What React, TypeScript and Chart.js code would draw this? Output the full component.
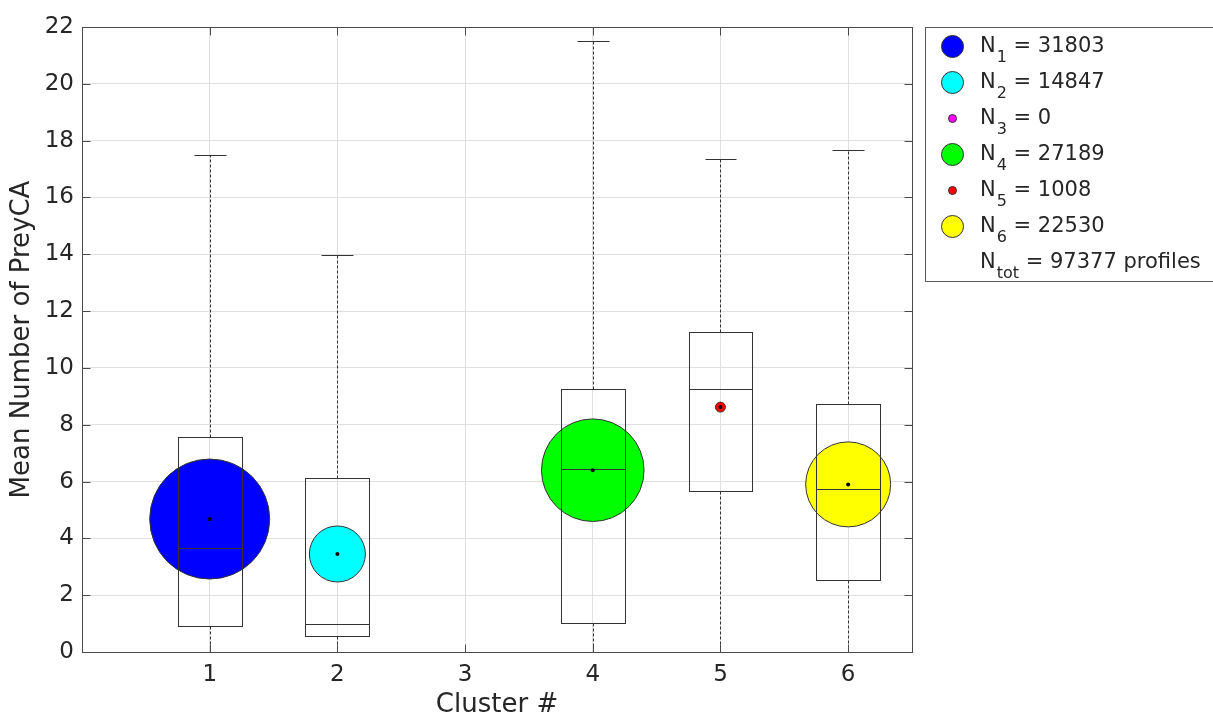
import React, { useEffect, useRef } from "react";
import { Chart, registerables } from "chart.js";

Chart.register(...registerables);

// ---------------- Data ----------------
const clusters = [1, 2, 3, 4, 5, 6];
const clusterCounts = [31803, 14847, 0, 27189, 1008, 22530];
const totalProfiles = 97377;
const clusterMeans: (number | null)[] = [4.68, 3.45, null, 6.4, 8.62, 5.9];
const clusterMedians: (number | null)[] = [3.65, 0.99, null, 6.43, 9.27, 5.73];
const clusterQ1: (number | null)[] = [0.93, 0.56, null, 1.01, 5.67, 2.53];
const clusterQ3: (number | null)[] = [7.57, 6.12, null, 9.26, 11.26, 8.74];
const whiskerLow: (number | null)[] = [0, 0, null, 0, 0, 0];
const whiskerHigh: (number | null)[] = [17.5, 13.97, null, 21.5, 17.36, 17.66];
const clusterColors = ["#0000ff", "#00ffff", "#ff00ff", "#00ff00", "#ff0000", "#ffff00"];
const xTicks = [1, 2, 3, 4, 5, 6];
const yTicks = [0, 2, 4, 6, 8, 10, 12, 14, 16, 18, 20, 22];
const xTitle = "Cluster #";
const yTitle = "Mean Number of PreyCA";

// ---------------- Style ----------------
const FONT = "'DejaVu Sans', sans-serif";
const TEXT = "#262626";
const AXIS = "#4a4a4a";
const BOXLINE = "#333333";
const GRID = "#e0e0e0";
const PX_PER_PROFILE = 60 / 31803;
const MIN_BUBBLE = 5;

const px = (v: number) => Math.round(v) + 0.5;

const boxPlugin = {
  id: "boxes",
  afterDatasetDraw(chart: any, args: any) {
    if (args.meta.type !== "bubble") return;
    const { ctx } = chart;
    const x = chart.scales.x;
    const y = chart.scales.y;
    ctx.save();
    ctx.strokeStyle = BOXLINE;
    ctx.lineWidth = 1;
    const line = (x1: number, y1: number, x2: number, y2: number) => {
      ctx.beginPath();
      ctx.moveTo(x1, y1);
      ctx.lineTo(x2, y2);
      ctx.stroke();
    };
    clusters.forEach((c, i) => {
      const q1 = clusterQ1[i];
      const q3 = clusterQ3[i];
      const med = clusterMedians[i];
      const lo = whiskerLow[i];
      const hi = whiskerHigh[i];
      if (q1 == null || q3 == null || med == null || lo == null || hi == null) return;
      const xc = px(x.getPixelForValue(c));
      const xl = px(x.getPixelForValue(c - 0.25));
      const xr = px(x.getPixelForValue(c + 0.25));
      const cl = px(x.getPixelForValue(c - 0.125));
      const cr = px(x.getPixelForValue(c + 0.125));
      const yq1 = px(y.getPixelForValue(q1));
      const yq3 = px(y.getPixelForValue(q3));
      const ym = px(y.getPixelForValue(med));
      const ylo = px(y.getPixelForValue(lo));
      const yhi = px(y.getPixelForValue(hi));
      ctx.setLineDash([3, 2]);
      line(xc, yq3, xc, yhi);
      line(xc, yq1, xc, ylo);
      ctx.setLineDash([]);
      line(cl, yhi, cr, yhi);
      line(cl, ylo, cr, ylo);
      ctx.strokeRect(xl, yq3, xr - xl, yq1 - yq3);
      line(xl, ym, xr, ym);
    });
    ctx.restore();
  },
};

const framePlugin = {
  id: "frame",
  afterDraw(chart: any) {
    const { ctx, chartArea } = chart;
    const x = chart.scales.x;
    const y = chart.scales.y;
    const L = px(chartArea.left);
    const R = px(chartArea.right);
    const T = px(chartArea.top);
    const B = px(chartArea.bottom);
    ctx.save();
    ctx.strokeStyle = AXIS;
    ctx.lineWidth = 1;
    ctx.strokeRect(L, T, R - L, B - T);
    const tl = 8;
    ctx.beginPath();
    yTicks.forEach((v) => {
      const yy = px(y.getPixelForValue(v));
      ctx.moveTo(L, yy);
      ctx.lineTo(L + tl, yy);
      ctx.moveTo(R, yy);
      ctx.lineTo(R - tl, yy);
    });
    xTicks.forEach((v) => {
      const xx = px(x.getPixelForValue(v));
      ctx.moveTo(xx, B);
      ctx.lineTo(xx, B - tl);
      ctx.moveTo(xx, T);
      ctx.lineTo(xx, T + tl);
    });
    ctx.stroke();

    // Legend
    const lx = 925.5;
    const ly = 27.5;
    const lw = 310;
    const lh = 254;
    ctx.fillStyle = "#ffffff";
    ctx.fillRect(lx, ly, lw, lh);
    ctx.strokeStyle = "#5a5a5a";
    ctx.strokeRect(lx, ly, lw, lh);
    const rowStart = 46.5;
    const rowStep = 36;
    const markerX = 952.5;
    const textX = 980;
    const mainFont = `21px ${FONT}`;
    const subFont = `16px ${FONT}`;
    ctx.textBaseline = "alphabetic";
    ctx.textAlign = "left";
    const drawEntry = (cy: number, sub: string, rest: string) => {
      const base = cy + 5.5;
      ctx.fillStyle = TEXT;
      ctx.font = mainFont;
      ctx.fillText("N", textX, base);
      const nW = ctx.measureText("N").width;
      ctx.font = subFont;
      ctx.fillText(sub, textX + nW + 1, base + 9.5);
      const sW = ctx.measureText(sub).width;
      ctx.font = mainFont;
      ctx.fillText(" = " + rest, textX + nW + 1 + sW, base);
    };
    clusters.forEach((c, i) => {
      const cy = rowStart + i * rowStep;
      const r = clusterCounts[i] > 5000 ? 11 : 4;
      ctx.beginPath();
      ctx.arc(markerX, cy, r, 0, Math.PI * 2);
      ctx.fillStyle = clusterColors[i];
      ctx.fill();
      ctx.strokeStyle = "#333333";
      ctx.lineWidth = 1;
      ctx.stroke();
      drawEntry(cy, String(c), String(clusterCounts[i]));
    });
    drawEntry(rowStart + clusters.length * rowStep, "tot", `${totalProfiles} profiles`);
    ctx.restore();
  },
};

export default function App() {
  const canvasRef = useRef<HTMLCanvasElement | null>(null);

  useEffect(() => {
    document.body.style.margin = "0";
    const canvas = canvasRef.current;
    if (!canvas) return;
    Chart.defaults.font.family = FONT;

    const bubbleData: any[] = [];
    const meanData: any[] = [];
    clusters.forEach((c, i) => {
      const m = clusterMeans[i];
      if (m == null || clusterCounts[i] === 0) return;
      bubbleData.push({
        x: c,
        y: m,
        r: Math.max(MIN_BUBBLE, clusterCounts[i] * PX_PER_PROFILE),
      });
      meanData.push({ x: c, y: m });
    });
    const bubbleColors = clusters
      .map((c, i) => (clusterMeans[i] == null || clusterCounts[i] === 0 ? null : clusterColors[i]))
      .filter((v) => v != null);

    const chart = new Chart(canvas, {
      type: "bubble",
      data: {
        datasets: [
          {
            type: "bubble",
            label: "clusters",
            data: bubbleData,
            backgroundColor: bubbleColors as string[],
            borderColor: "#333333",
            borderWidth: 1,
            order: 2,
          } as any,
          {
            type: "scatter",
            label: "means",
            data: meanData,
            pointRadius: 2,
            pointBackgroundColor: "#000000",
            pointBorderColor: "#000000",
            pointBorderWidth: 0,
            order: 1,
          } as any,
        ],
      },
      options: {
        animation: false,
        responsive: false,
        devicePixelRatio: 1,
        events: [],
        layout: { autoPadding: false, padding: { top: 27, right: 301, left: 0, bottom: 0 } },
        plugins: {
          legend: { display: false },
          tooltip: { enabled: false },
          title: { display: false },
        },
        scales: {
          x: {
            type: "linear",
            min: 0,
            max: 6.5,
            afterBuildTicks: (scale: any) => {
              scale.ticks = xTicks.map((v) => ({ value: v }));
            },
            afterFit: (scale: any) => {
              scale.height = 66;
            },
            ticks: {
              autoSkip: false,
              maxRotation: 0,
              padding: 9,
              color: TEXT,
              font: { size: 23, family: FONT },
              callback: (v: any) => String(v),
            },
            grid: { color: GRID, lineWidth: 1, drawTicks: false },
            border: { display: false },
            title: {
              display: true,
              text: xTitle,
              color: TEXT,
              font: { size: 26, family: FONT, lineHeight: 1 },
              padding: { top: 0, bottom: 0 },
            },
          },
          y: {
            type: "linear",
            min: 0,
            max: 22,
            afterBuildTicks: (scale: any) => {
              scale.ticks = yTicks.map((v) => ({ value: v }));
            },
            afterFit: (scale: any) => {
              scale.width = 82;
            },
            ticks: {
              autoSkip: false,
              padding: 8,
              color: TEXT,
              font: { size: 23, family: FONT },
              callback: (v: any) => String(v),
            },
            grid: { color: GRID, lineWidth: 1, drawTicks: false },
            border: { display: false },
            title: {
              display: true,
              text: yTitle,
              color: TEXT,
              font: { size: 26, family: FONT, lineHeight: 1 },
              padding: { top: 9, bottom: 0 },
            },
          },
        },
      },
      plugins: [boxPlugin, framePlugin],
    } as any);

    return () => {
      chart.destroy();
    };
  }, []);

  return (
    <div style={{ position: "absolute", left: 0, top: 0, width: 1213, height: 718, background: "#ffffff" }}>
      <canvas ref={canvasRef} width={1213} height={718} style={{ display: "block" }} />
    </div>
  );
}
